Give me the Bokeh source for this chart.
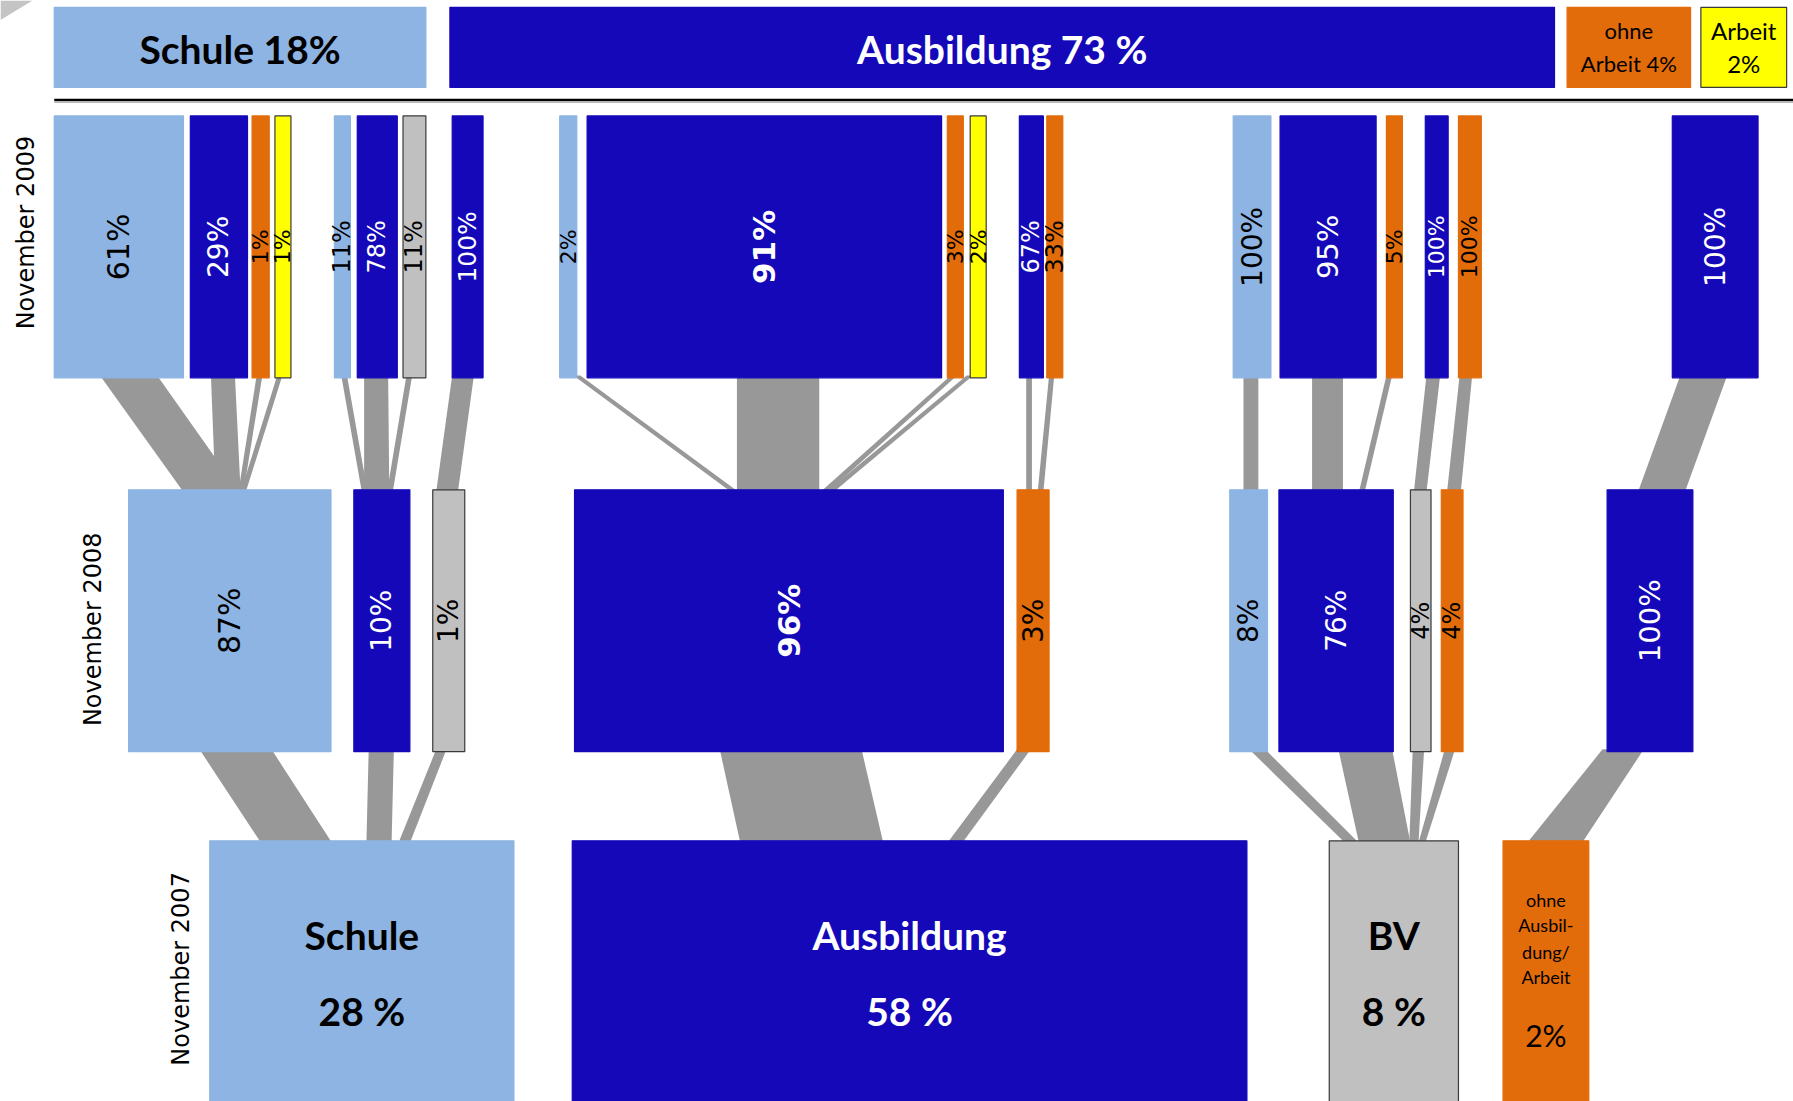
import numpy as np
from bokeh.plotting import figure
from bokeh.models import Range1d, ColumnDataSource
from bokeh.core.properties import value
from bokeh.embed import file_html
from bokeh.resources import INLINE

# ------------------------------------------------------------------ data
# Status 2010 (header row)
top_names = ["Schule", "Ausbildung", "ohne Arbeit", "Arbeit"]
top_vals = [18, 73, 4, 2]
top_cats = ["S", "A", "O", "W"]

# November 2009: shares within each 2008 group
r09_vals = [61, 29, 1, 1, 11, 78, 11, 100, 2, 91, 3, 2, 67, 33, 100, 95, 5, 100, 100, 100]
r09_cats = ["S", "A", "O", "W", "S", "A", "B", "A", "S", "A", "O", "W", "A", "O",
            "S", "A", "O", "A", "O", "A"]
r09_parent = [0, 0, 0, 0, 1, 1, 1, 2, 3, 3, 3, 3, 4, 4, 5, 6, 6, 7, 8, 9]

# November 2008: shares within each 2007 group
r08_vals = [87, 10, 1, 96, 3, 8, 76, 4, 4, 100]
r08_cats = ["S", "A", "B", "A", "O", "S", "A", "B", "O", "A"]
r08_parent = [0, 0, 0, 1, 1, 2, 2, 2, 2, 3]

# November 2007: starting groups
r07_names = ["Schule", "Ausbildung", "BV", "ohne Ausbildung/Arbeit"]
r07_vals = [28, 58, 8, 2]
r07_cats = ["S", "A", "B", "O"]

year_labels = ["November 2009", "November 2008", "November 2007"]

# ------------------------------------------------------------------ layout (page units, y from top)
W, H = 1568.0, 963.0
top_x = [(47, 372), (393, 1359), (1370, 1478), (1487, 1562)]
top_y = (6, 76)
r09_x = [(47, 160), (166, 216), (220, 235), (240, 254), (292, 306), (312, 347), (352, 372),
         (395, 422), (489, 504), (513, 823), (828, 842), (848, 862), (891, 912), (915, 929),
         (1078, 1111), (1119, 1203), (1212, 1226), (1246, 1266), (1275, 1295), (1462, 1537)]
r09_y = (101, 330)
r08_x = [(112, 289), (309, 358), (378, 406), (502, 877), (889, 917), (1075, 1108),
         (1118, 1218), (1233, 1251), (1260, 1279), (1405, 1480)]
r08_y = (428, 657)
r07_x = [(183, 449), (500, 1090), (1162, 1275), (1314, 1389)]
r07_y = (735, 980)

# flow bands: (top-left, top-right) at source bottom -> (bottom-left, bottom-right) at target top
f09_top = [(87, 137), (184, 205), (224, 229), (242, 246.5), (298, 303), (318, 339), (355, 360),
           (395, 414), (501, 507), (644, 716), (831, 836.5), (845, 850.5), (897, 902), (917, 921.5),
           (1087, 1100), (1147, 1174), (1212, 1217), (1247, 1259), (1276, 1287), (1469, 1510)]
f09_bot = [(160, 209), (188, 210), (208, 212.5), (210, 214.5), (316, 321), (318, 340), (338, 343),
           (381, 400), (639, 645.5), (644, 716), (717, 723.5), (722, 728.5), (897, 902), (907, 912),
           (1087, 1100), (1147, 1174), (1188, 1193), (1236, 1247), (1265, 1277), (1432, 1473)]
f08_top = [(174, 237), (322, 344), (381, 390), (629, 753), (889, 901), (1092, 1106),
           (1170, 1217), (1235, 1245), (1263, 1272), (1401, 1437)]
f08_bot = [(228, 290), (320, 342), (348, 358), (647, 772), (828, 841), (1176, 1188),
           (1188, 1233), (1232, 1240), (1240, 1246), (1335, 1383)]

# ------------------------------------------------------------------ styles
COL = {"S": "#8DB4E2", "A": "#1408B9", "O": "#E36C0A", "W": "#FFFF00", "B": "#C0C0C0"}
BORDER = {"S": None, "A": None, "O": None, "W": "#3A3A3A", "B": "#3A3A3A"}
FLOW = "#989898"
fs09 = [30, 28, 22, 22, 24, 24, 24, 25, 22, 31, 22, 22, 24, 24, 28, 29, 22, 22, 22, 28]
fs08 = [30, 28, 28, 31, 28, 28, 28, 24, 24, 29]
bold09 = {9}
bold08 = {3}
HEAD_FONT = "Lato"
PCT_FONT = "DejaVu Sans"


def Y(y):
    return H - y


p = figure(width=1793, height=1101, x_range=Range1d(0, W), y_range=Range1d(0, H),
           output_backend="svg", toolbar_location=None, min_border=0,
           x_axis_type=None, y_axis_type=None)
p.grid.visible = False
p.outline_line_color = None
p.background_fill_color = "white"
p.border_fill_color = "white"

# page-fold corner
p.patch([0, 28, 0], [Y(0), Y(0), Y(17)], fill_color="#C4C4C4", line_color=None)

# ---- flows
xs, ys = [], []
for (tl, tr), (bl, br) in zip(f09_top, f09_bot):
    xs.append([tl, tr, br, bl])
    ys.append([Y(r09_y[1] - 2), Y(r09_y[1] - 2), Y(r08_y[0] + 2), Y(r08_y[0] + 2)])
for (tl, tr), (bl, br) in zip(f08_top, f08_bot):
    xs.append([tl, tr, br, bl])
    ys.append([Y(r08_y[1] - 2), Y(r08_y[1] - 2), Y(r07_y[0] + 2), Y(r07_y[0] + 2)])
p.patches(xs, ys, fill_color=FLOW, line_color=None)


# ---- boxes
def boxes(xpos, ypos, cats):
    src = ColumnDataSource(dict(
        left=[a for a, b in xpos], right=[b for a, b in xpos],
        top=[Y(ypos[0])] * len(xpos), bottom=[Y(ypos[1])] * len(xpos),
        fill=[COL[c] for c in cats],
        line=[BORDER[c] if BORDER[c] else COL[c] for c in cats]))
    p.quad(left="left", right="right", top="top", bottom="bottom", source=src,
           fill_color="fill", line_color="line", line_width=1.2)


boxes(top_x, top_y, top_cats)
boxes(r09_x, r09_y, r09_cats)
boxes(r08_x, r08_y, r08_cats)
boxes(r07_x, r07_y, r07_cats)

# header separator (double rule)
p.line([47, W], [Y(87), Y(87)], line_color="black", line_width=2.5)
p.line([47, W], [Y(89), Y(89)], line_color="#A0A0A0", line_width=1.2)


# ---- rotated percentage labels
def pct_labels(xpos, ypos, vals, cats, sizes, bolds):
    src = ColumnDataSource(dict(
        x=[(a + b) / 2 for a, b in xpos],
        y=[Y((ypos[0] + ypos[1]) / 2)] * len(xpos),
        t=[f"{v}%" for v in vals],
        c=["white" if c == "A" else "black" for c in cats],
        s=[f"{s}px" for s in sizes],
        w=["bold" if i in bolds else "normal" for i in range(len(vals))]))
    p.text(x="x", y="y", text="t", source=src, angle=np.pi / 2, text_align="center",
           text_baseline="middle", text_color="c", text_font_size="s", text_font_style="w",
           text_font=value(PCT_FONT))


pct_labels(r09_x, r09_y, r09_vals, r09_cats, fs09, bold09)
pct_labels(r08_x, r08_y, r08_vals, r08_cats, fs08, bold08)

# ---- year labels
p.text(x=[22, 81, 158], y=[Y(203), Y(550), Y(847)], text=year_labels, angle=np.pi / 2,
       text_align="center", text_baseline="middle", text_color="black",
       text_font_size="24px", text_font=value(PCT_FONT))


def htext(x, y, t, size, color="black", style="normal"):
    p.text(x=[x], y=[Y(y)], text=[t], text_align="center", text_baseline="middle",
           text_color=color, text_font_size=f"{size}px", text_font_style=style,
           text_font=value(HEAD_FONT))


# header row texts
cx = [(a + b) / 2 for a, b in top_x]
htext(cx[0], 42, f"{top_names[0]} {top_vals[0]}%", 39, "black", "bold")
htext(cx[1], 42, f"{top_names[1]} {top_vals[1]} %", 39, "white", "bold")
htext(cx[2], 26, "ohne", 22)
htext(cx[2], 55, f"Arbeit {top_vals[2]}%", 22)
htext(cx[3], 26, top_names[3], 24)
htext(cx[3], 55, f"{top_vals[3]}%", 24)

# bottom row texts
bx = [(a + b) / 2 for a, b in r07_x]
htext(bx[0], 817, r07_names[0], 39, "black", "bold")
htext(bx[0], 884, f"{r07_vals[0]} %", 39, "black", "bold")
htext(bx[1], 817, r07_names[1], 39, "white", "bold")
htext(bx[1], 884, f"{r07_vals[1]} %", 39, "white", "bold")
htext(bx[2], 817, r07_names[2], 39, "black", "bold")
htext(bx[2], 884, f"{r07_vals[2]} %", 39, "black", "bold")
for yy, t in zip([787, 809, 832, 854], ["ohne", "Ausbil-", "dung/", "Arbeit"]):
    htext(bx[3], yy, t, 18)
htext(bx[3], 905, f"{r07_vals[3]}%", 30)

open("out.html", "w").write(file_html(p, INLINE))
